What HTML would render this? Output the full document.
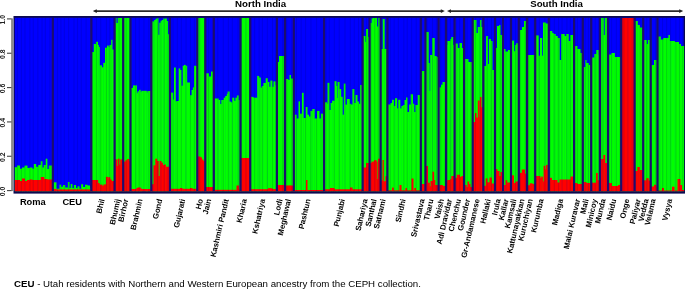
<!DOCTYPE html>
<html><head><meta charset="utf-8"><style>
html,body{margin:0;padding:0;background:#fff;width:685px;height:289px;overflow:hidden}
svg{position:absolute;left:0;top:0;display:block}
text{font-family:"Liberation Sans",Arial,sans-serif;fill:#000}
.hd{font-weight:bold;font-size:9.7px}
.hl{font-weight:bold;font-size:9.3px}
.rl{font-weight:bold;font-size:7.8px}
.yl{font-size:6.9px;font-weight:bold;fill:#222}
.ft{font-size:9.7px;fill:#000}
</style></head><body>
<svg width="685" height="289" viewBox="0 0 685 289">
<rect x="0" y="0" width="685" height="289" fill="#fff"/>
<text x="235.0" y="6.8" class="hd">North India</text>
<text x="530.2" y="6.8" class="hd">South India</text>
<line x1="94.80" y1="11.1" x2="442.80" y2="11.1" stroke="#2a2a2a" stroke-width="1.7"/>
<path d="M92.8 11.1 L96.8 9.2 L96.8 13.0 Z" fill="#222"/>
<path d="M444.8 11.1 L440.8 9.2 L440.8 13.0 Z" fill="#222"/>
<line x1="449.00" y1="11.1" x2="681.20" y2="11.1" stroke="#2a2a2a" stroke-width="1.7"/>
<path d="M447.0 11.1 L451.0 9.2 L451.0 13.0 Z" fill="#222"/>
<path d="M683.2 11.1 L679.2 9.2 L679.2 13.0 Z" fill="#222"/>
<rect x="13.5" y="16.0" width="671.50" height="177.60" fill="#0c0a50"/>
<defs><filter id="bl" x="-1%" y="-1%" width="102%" height="102%"><feGaussianBlur stdDeviation="0.35"/></filter></defs>
<g filter="url(#bl)">
<rect x="14.8" y="17.8" width="668.80" height="173.40" fill="#0000ff"/>
<rect x="14.80" y="167.20" width="2.70" height="24.00" fill="#00ff00"/>
<rect x="17.00" y="165.50" width="3.00" height="25.70" fill="#00ff00"/>
<rect x="19.50" y="168.70" width="3.00" height="22.50" fill="#00ff00"/>
<rect x="22.00" y="167.50" width="3.00" height="23.70" fill="#00ff00"/>
<rect x="24.50" y="165.60" width="3.00" height="25.60" fill="#00ff00"/>
<rect x="27.00" y="168.00" width="3.00" height="23.20" fill="#00ff00"/>
<rect x="29.50" y="167.50" width="3.00" height="23.70" fill="#00ff00"/>
<rect x="32.00" y="168.70" width="2.30" height="22.50" fill="#00ff00"/>
<rect x="33.80" y="164.00" width="2.40" height="27.20" fill="#00ff00"/>
<rect x="35.70" y="166.80" width="3.00" height="24.40" fill="#00ff00"/>
<rect x="38.20" y="165.00" width="3.00" height="26.20" fill="#00ff00"/>
<rect x="40.70" y="161.20" width="1.80" height="30.00" fill="#00ff00"/>
<rect x="42.00" y="167.50" width="2.30" height="23.70" fill="#00ff00"/>
<rect x="43.80" y="165.00" width="2.40" height="26.20" fill="#00ff00"/>
<rect x="45.70" y="158.70" width="1.70" height="32.50" fill="#00ff00"/>
<rect x="46.90" y="169.00" width="2.40" height="22.20" fill="#00ff00"/>
<rect x="48.80" y="165.50" width="4.50" height="25.70" fill="#00ff00"/>
<rect x="14.80" y="180.00" width="2.70" height="11.20" fill="#ff0000"/>
<rect x="17.00" y="180.00" width="3.00" height="11.20" fill="#ff0000"/>
<rect x="19.50" y="181.00" width="3.00" height="10.20" fill="#ff0000"/>
<rect x="22.00" y="178.50" width="3.00" height="12.70" fill="#ff0000"/>
<rect x="24.50" y="181.00" width="3.00" height="10.20" fill="#ff0000"/>
<rect x="27.00" y="180.00" width="3.00" height="11.20" fill="#ff0000"/>
<rect x="29.50" y="179.50" width="3.00" height="11.70" fill="#ff0000"/>
<rect x="32.00" y="180.00" width="2.30" height="11.20" fill="#ff0000"/>
<rect x="33.80" y="180.00" width="2.40" height="11.20" fill="#ff0000"/>
<rect x="35.70" y="180.00" width="3.00" height="11.20" fill="#ff0000"/>
<rect x="38.20" y="180.00" width="3.00" height="11.20" fill="#ff0000"/>
<rect x="40.70" y="177.00" width="1.80" height="14.20" fill="#ff0000"/>
<rect x="42.00" y="177.00" width="2.30" height="14.20" fill="#ff0000"/>
<rect x="43.80" y="179.00" width="2.40" height="12.20" fill="#ff0000"/>
<rect x="45.70" y="179.00" width="1.70" height="12.20" fill="#ff0000"/>
<rect x="46.90" y="179.50" width="2.40" height="11.70" fill="#ff0000"/>
<rect x="48.80" y="179.50" width="4.50" height="11.70" fill="#ff0000"/>
<rect x="52.80" y="182.30" width="3.70" height="8.90" fill="#00ff00"/>
<rect x="56.00" y="188.70" width="4.00" height="2.50" fill="#00ff00"/>
<rect x="59.50" y="184.70" width="1.70" height="6.50" fill="#00ff00"/>
<rect x="60.70" y="186.70" width="2.80" height="4.50" fill="#00ff00"/>
<rect x="63.00" y="185.00" width="2.20" height="6.20" fill="#00ff00"/>
<rect x="64.70" y="187.50" width="3.70" height="3.70" fill="#00ff00"/>
<rect x="67.90" y="182.00" width="1.60" height="9.20" fill="#00ff00"/>
<rect x="69.00" y="188.00" width="2.20" height="3.20" fill="#00ff00"/>
<rect x="70.70" y="184.00" width="1.70" height="7.20" fill="#00ff00"/>
<rect x="71.90" y="188.00" width="2.50" height="3.20" fill="#00ff00"/>
<rect x="73.90" y="185.00" width="2.10" height="6.20" fill="#00ff00"/>
<rect x="75.50" y="188.00" width="2.40" height="3.20" fill="#00ff00"/>
<rect x="77.40" y="186.30" width="2.10" height="4.90" fill="#00ff00"/>
<rect x="79.00" y="188.70" width="2.50" height="2.50" fill="#00ff00"/>
<rect x="81.00" y="184.30" width="2.10" height="6.90" fill="#00ff00"/>
<rect x="82.60" y="187.00" width="2.90" height="4.20" fill="#00ff00"/>
<rect x="85.00" y="184.70" width="2.50" height="6.50" fill="#00ff00"/>
<rect x="87.00" y="185.50" width="3.30" height="5.70" fill="#00ff00"/>
<rect x="89.80" y="188.30" width="2.00" height="2.90" fill="#00ff00"/>
<rect x="52.80" y="189.00" width="3.70" height="2.20" fill="#ff0000"/>
<rect x="56.00" y="189.50" width="4.00" height="1.70" fill="#ff0000"/>
<rect x="59.50" y="189.50" width="1.70" height="1.70" fill="#ff0000"/>
<rect x="60.70" y="189.50" width="2.80" height="1.70" fill="#ff0000"/>
<rect x="63.00" y="189.50" width="2.20" height="1.70" fill="#ff0000"/>
<rect x="64.70" y="189.50" width="3.70" height="1.70" fill="#ff0000"/>
<rect x="67.90" y="189.50" width="1.60" height="1.70" fill="#ff0000"/>
<rect x="69.00" y="189.50" width="2.20" height="1.70" fill="#ff0000"/>
<rect x="70.70" y="189.50" width="1.70" height="1.70" fill="#ff0000"/>
<rect x="71.90" y="189.50" width="2.50" height="1.70" fill="#ff0000"/>
<rect x="73.90" y="189.50" width="2.10" height="1.70" fill="#ff0000"/>
<rect x="75.50" y="189.50" width="2.40" height="1.70" fill="#ff0000"/>
<rect x="77.40" y="189.50" width="2.10" height="1.70" fill="#ff0000"/>
<rect x="79.00" y="189.50" width="2.50" height="1.70" fill="#ff0000"/>
<rect x="81.00" y="189.50" width="2.10" height="1.70" fill="#ff0000"/>
<rect x="82.60" y="189.50" width="2.90" height="1.70" fill="#ff0000"/>
<rect x="85.00" y="189.50" width="2.50" height="1.70" fill="#ff0000"/>
<rect x="87.00" y="189.50" width="3.30" height="1.70" fill="#ff0000"/>
<rect x="89.80" y="189.50" width="2.00" height="1.70" fill="#ff0000"/>
<rect x="91.30" y="52.00" width="3.00" height="139.20" fill="#00ff00"/>
<rect x="93.80" y="44.00" width="2.60" height="147.20" fill="#00ff00"/>
<rect x="95.90" y="41.80" width="2.10" height="149.40" fill="#00ff00"/>
<rect x="97.50" y="45.00" width="1.40" height="146.20" fill="#00ff00"/>
<rect x="98.40" y="47.00" width="1.40" height="144.20" fill="#00ff00"/>
<rect x="99.30" y="65.30" width="2.70" height="125.90" fill="#00ff00"/>
<rect x="101.50" y="67.30" width="2.30" height="123.90" fill="#00ff00"/>
<rect x="103.30" y="62.80" width="2.20" height="128.40" fill="#00ff00"/>
<rect x="105.00" y="47.70" width="2.50" height="143.50" fill="#00ff00"/>
<rect x="107.00" y="45.60" width="1.70" height="145.60" fill="#00ff00"/>
<rect x="108.20" y="47.00" width="1.70" height="144.20" fill="#00ff00"/>
<rect x="109.40" y="45.00" width="2.30" height="146.20" fill="#00ff00"/>
<rect x="111.20" y="39.80" width="1.30" height="151.40" fill="#00ff00"/>
<rect x="112.00" y="49.50" width="3.10" height="141.70" fill="#00ff00"/>
<rect x="91.30" y="180.00" width="6.90" height="11.20" fill="#ff0000"/>
<rect x="97.70" y="183.00" width="1.90" height="8.20" fill="#ff0000"/>
<rect x="99.10" y="184.60" width="3.40" height="6.60" fill="#ff0000"/>
<rect x="102.00" y="185.80" width="2.00" height="5.40" fill="#ff0000"/>
<rect x="103.50" y="184.40" width="2.90" height="6.80" fill="#ff0000"/>
<rect x="105.90" y="176.80" width="2.00" height="14.40" fill="#ff0000"/>
<rect x="107.40" y="178.60" width="1.40" height="12.60" fill="#ff0000"/>
<rect x="108.30" y="177.10" width="2.00" height="14.10" fill="#ff0000"/>
<rect x="109.80" y="179.50" width="2.00" height="11.70" fill="#ff0000"/>
<rect x="111.30" y="181.00" width="3.80" height="10.20" fill="#ff0000"/>
<rect x="114.60" y="18.00" width="1.90" height="173.20" fill="#00ff00"/>
<rect x="116.00" y="23.00" width="2.20" height="168.20" fill="#00ff00"/>
<rect x="117.70" y="18.00" width="0.80" height="173.20" fill="#00ff00"/>
<rect x="118.00" y="18.00" width="5.70" height="173.20" fill="#00ff00"/>
<rect x="114.60" y="159.40" width="2.90" height="31.80" fill="#ff0000"/>
<rect x="117.00" y="166.00" width="1.50" height="25.20" fill="#ff0000"/>
<rect x="118.00" y="158.70" width="1.50" height="32.50" fill="#ff0000"/>
<rect x="119.00" y="164.50" width="1.70" height="26.70" fill="#ff0000"/>
<rect x="120.20" y="159.40" width="3.50" height="31.80" fill="#ff0000"/>
<rect x="123.20" y="18.00" width="7.80" height="173.20" fill="#00ff00"/>
<rect x="123.20" y="161.60" width="2.60" height="29.60" fill="#ff0000"/>
<rect x="125.30" y="160.20" width="2.40" height="31.00" fill="#ff0000"/>
<rect x="127.20" y="159.00" width="1.90" height="32.20" fill="#ff0000"/>
<rect x="128.60" y="161.00" width="2.40" height="30.20" fill="#ff0000"/>
<rect x="130.50" y="87.90" width="3.00" height="103.30" fill="#00ff00"/>
<rect x="133.00" y="85.40" width="3.90" height="105.80" fill="#00ff00"/>
<rect x="136.40" y="93.20" width="1.60" height="98.00" fill="#00ff00"/>
<rect x="137.50" y="91.30" width="2.00" height="99.90" fill="#00ff00"/>
<rect x="139.00" y="89.80" width="1.70" height="101.40" fill="#00ff00"/>
<rect x="140.20" y="92.10" width="1.60" height="99.10" fill="#00ff00"/>
<rect x="141.30" y="90.80" width="5.50" height="100.40" fill="#00ff00"/>
<rect x="146.30" y="92.50" width="1.60" height="98.70" fill="#00ff00"/>
<rect x="147.40" y="91.00" width="4.40" height="100.20" fill="#00ff00"/>
<rect x="130.50" y="189.00" width="3.00" height="2.20" fill="#ff0000"/>
<rect x="133.00" y="189.00" width="3.90" height="2.20" fill="#ff0000"/>
<rect x="136.40" y="188.00" width="1.60" height="3.20" fill="#ff0000"/>
<rect x="137.50" y="187.50" width="2.00" height="3.70" fill="#ff0000"/>
<rect x="139.00" y="187.50" width="1.70" height="3.70" fill="#ff0000"/>
<rect x="140.20" y="188.50" width="1.60" height="2.70" fill="#ff0000"/>
<rect x="141.30" y="189.00" width="5.50" height="2.20" fill="#ff0000"/>
<rect x="146.30" y="189.00" width="1.60" height="2.20" fill="#ff0000"/>
<rect x="147.40" y="189.00" width="4.40" height="2.20" fill="#ff0000"/>
<rect x="151.30" y="21.40" width="3.40" height="169.80" fill="#00ff00"/>
<rect x="154.20" y="20.00" width="1.80" height="171.20" fill="#00ff00"/>
<rect x="155.50" y="18.80" width="1.80" height="172.40" fill="#00ff00"/>
<rect x="156.80" y="18.20" width="1.70" height="173.00" fill="#00ff00"/>
<rect x="158.00" y="34.80" width="1.80" height="156.40" fill="#00ff00"/>
<rect x="159.30" y="22.70" width="1.80" height="168.50" fill="#00ff00"/>
<rect x="160.60" y="20.70" width="1.80" height="170.50" fill="#00ff00"/>
<rect x="161.90" y="20.00" width="1.80" height="171.20" fill="#00ff00"/>
<rect x="163.20" y="18.50" width="3.70" height="172.70" fill="#00ff00"/>
<rect x="166.40" y="21.00" width="1.70" height="170.20" fill="#00ff00"/>
<rect x="167.60" y="34.20" width="2.90" height="157.00" fill="#00ff00"/>
<rect x="151.30" y="184.20" width="2.70" height="7.00" fill="#ff0000"/>
<rect x="153.50" y="165.30" width="2.30" height="25.90" fill="#ff0000"/>
<rect x="155.30" y="158.70" width="1.90" height="32.50" fill="#ff0000"/>
<rect x="156.70" y="161.00" width="2.00" height="30.20" fill="#ff0000"/>
<rect x="158.20" y="176.00" width="1.90" height="15.20" fill="#ff0000"/>
<rect x="159.60" y="161.00" width="1.90" height="30.20" fill="#ff0000"/>
<rect x="161.00" y="162.70" width="2.00" height="28.50" fill="#ff0000"/>
<rect x="162.50" y="165.00" width="2.00" height="26.20" fill="#ff0000"/>
<rect x="164.00" y="164.50" width="1.90" height="26.70" fill="#ff0000"/>
<rect x="165.40" y="166.70" width="5.10" height="24.50" fill="#ff0000"/>
<rect x="170.00" y="92.60" width="3.30" height="98.60" fill="#00ff00"/>
<rect x="172.80" y="99.50" width="1.70" height="91.70" fill="#00ff00"/>
<rect x="174.00" y="67.50" width="1.80" height="123.70" fill="#00ff00"/>
<rect x="175.30" y="101.30" width="1.90" height="89.90" fill="#00ff00"/>
<rect x="176.70" y="101.00" width="2.50" height="90.20" fill="#00ff00"/>
<rect x="178.70" y="68.40" width="1.60" height="122.80" fill="#00ff00"/>
<rect x="179.80" y="70.00" width="1.70" height="121.20" fill="#00ff00"/>
<rect x="181.00" y="85.70" width="2.20" height="105.50" fill="#00ff00"/>
<rect x="182.70" y="65.80" width="1.70" height="125.40" fill="#00ff00"/>
<rect x="183.90" y="64.90" width="1.90" height="126.30" fill="#00ff00"/>
<rect x="185.30" y="65.80" width="1.90" height="125.40" fill="#00ff00"/>
<rect x="186.70" y="82.50" width="3.30" height="108.70" fill="#00ff00"/>
<rect x="189.50" y="95.20" width="2.60" height="96.00" fill="#00ff00"/>
<rect x="191.60" y="90.00" width="1.80" height="101.20" fill="#00ff00"/>
<rect x="192.90" y="87.40" width="1.60" height="103.80" fill="#00ff00"/>
<rect x="194.00" y="65.80" width="3.80" height="125.40" fill="#00ff00"/>
<rect x="170.00" y="188.80" width="10.50" height="2.40" fill="#ff0000"/>
<rect x="180.00" y="188.00" width="2.50" height="3.20" fill="#ff0000"/>
<rect x="182.00" y="188.80" width="8.50" height="2.40" fill="#ff0000"/>
<rect x="190.00" y="188.00" width="2.50" height="3.20" fill="#ff0000"/>
<rect x="192.00" y="188.80" width="5.80" height="2.40" fill="#ff0000"/>
<rect x="197.30" y="18.00" width="8.50" height="173.20" fill="#00ff00"/>
<rect x="197.30" y="156.50" width="3.20" height="34.70" fill="#ff0000"/>
<rect x="200.00" y="157.30" width="2.00" height="33.90" fill="#ff0000"/>
<rect x="201.50" y="159.50" width="2.00" height="31.70" fill="#ff0000"/>
<rect x="203.00" y="161.00" width="2.80" height="30.20" fill="#ff0000"/>
<rect x="205.30" y="73.30" width="3.70" height="117.90" fill="#00ff00"/>
<rect x="208.50" y="76.50" width="3.00" height="114.70" fill="#00ff00"/>
<rect x="211.00" y="71.50" width="3.30" height="119.70" fill="#00ff00"/>
<rect x="205.30" y="187.00" width="3.70" height="4.20" fill="#ff0000"/>
<rect x="208.50" y="187.00" width="3.00" height="4.20" fill="#ff0000"/>
<rect x="211.00" y="187.00" width="3.30" height="4.20" fill="#ff0000"/>
<rect x="213.80" y="98.50" width="4.90" height="92.70" fill="#00ff00"/>
<rect x="218.20" y="100.00" width="2.10" height="91.20" fill="#00ff00"/>
<rect x="219.80" y="104.00" width="2.00" height="87.20" fill="#00ff00"/>
<rect x="221.30" y="100.00" width="2.90" height="91.20" fill="#00ff00"/>
<rect x="223.70" y="97.70" width="2.00" height="93.50" fill="#00ff00"/>
<rect x="225.20" y="96.00" width="2.10" height="95.20" fill="#00ff00"/>
<rect x="226.80" y="93.80" width="1.30" height="97.40" fill="#00ff00"/>
<rect x="227.60" y="91.50" width="2.00" height="99.70" fill="#00ff00"/>
<rect x="229.10" y="101.60" width="2.10" height="89.60" fill="#00ff00"/>
<rect x="230.70" y="102.40" width="2.00" height="88.80" fill="#00ff00"/>
<rect x="232.20" y="97.70" width="2.10" height="93.50" fill="#00ff00"/>
<rect x="233.80" y="100.80" width="2.10" height="90.40" fill="#00ff00"/>
<rect x="235.40" y="97.70" width="2.00" height="93.50" fill="#00ff00"/>
<rect x="236.90" y="95.40" width="1.80" height="95.80" fill="#00ff00"/>
<rect x="238.20" y="100.00" width="2.80" height="91.20" fill="#00ff00"/>
<rect x="213.80" y="189.80" width="23.20" height="1.40" fill="#ff0000"/>
<rect x="236.50" y="185.50" width="2.50" height="5.70" fill="#ff0000"/>
<rect x="238.50" y="189.50" width="2.50" height="1.70" fill="#ff0000"/>
<rect x="240.50" y="18.00" width="10.20" height="173.20" fill="#00ff00"/>
<rect x="240.50" y="158.00" width="10.20" height="33.20" fill="#ff0000"/>
<rect x="250.20" y="96.90" width="3.30" height="94.30" fill="#00ff00"/>
<rect x="253.00" y="97.70" width="4.70" height="93.50" fill="#00ff00"/>
<rect x="257.20" y="75.90" width="2.00" height="115.30" fill="#00ff00"/>
<rect x="258.70" y="77.50" width="2.10" height="113.70" fill="#00ff00"/>
<rect x="260.30" y="87.60" width="2.00" height="103.60" fill="#00ff00"/>
<rect x="261.80" y="86.00" width="2.10" height="105.20" fill="#00ff00"/>
<rect x="263.40" y="83.00" width="2.80" height="108.20" fill="#00ff00"/>
<rect x="265.70" y="78.20" width="2.10" height="113.00" fill="#00ff00"/>
<rect x="267.30" y="82.00" width="2.10" height="109.20" fill="#00ff00"/>
<rect x="268.90" y="86.80" width="2.00" height="104.40" fill="#00ff00"/>
<rect x="270.40" y="80.60" width="2.10" height="110.60" fill="#00ff00"/>
<rect x="272.00" y="86.80" width="2.00" height="104.40" fill="#00ff00"/>
<rect x="273.50" y="81.40" width="2.10" height="109.80" fill="#00ff00"/>
<rect x="275.10" y="85.20" width="2.30" height="106.00" fill="#00ff00"/>
<rect x="250.20" y="189.20" width="18.30" height="2.00" fill="#ff0000"/>
<rect x="268.00" y="188.20" width="4.50" height="3.00" fill="#ff0000"/>
<rect x="272.00" y="189.00" width="5.40" height="2.20" fill="#ff0000"/>
<rect x="276.90" y="62.00" width="2.60" height="129.20" fill="#00ff00"/>
<rect x="279.00" y="56.00" width="6.50" height="135.20" fill="#00ff00"/>
<rect x="276.90" y="185.00" width="2.60" height="6.20" fill="#ff0000"/>
<rect x="279.00" y="185.00" width="6.50" height="6.20" fill="#ff0000"/>
<rect x="285.00" y="79.00" width="3.30" height="112.20" fill="#00ff00"/>
<rect x="287.80" y="80.00" width="2.20" height="111.20" fill="#00ff00"/>
<rect x="289.50" y="75.00" width="1.50" height="116.20" fill="#00ff00"/>
<rect x="290.50" y="78.50" width="3.80" height="112.70" fill="#00ff00"/>
<rect x="285.00" y="185.50" width="3.30" height="5.70" fill="#ff0000"/>
<rect x="287.80" y="185.50" width="2.20" height="5.70" fill="#ff0000"/>
<rect x="289.50" y="185.50" width="1.50" height="5.70" fill="#ff0000"/>
<rect x="290.50" y="185.50" width="3.80" height="5.70" fill="#ff0000"/>
<rect x="293.80" y="114.70" width="2.90" height="76.50" fill="#00ff00"/>
<rect x="296.20" y="118.50" width="2.80" height="72.70" fill="#00ff00"/>
<rect x="298.50" y="101.40" width="1.50" height="89.80" fill="#00ff00"/>
<rect x="299.50" y="113.70" width="2.90" height="77.50" fill="#00ff00"/>
<rect x="301.90" y="92.80" width="1.80" height="98.40" fill="#00ff00"/>
<rect x="303.20" y="118.00" width="3.00" height="73.20" fill="#00ff00"/>
<rect x="305.70" y="107.00" width="1.80" height="84.20" fill="#00ff00"/>
<rect x="307.00" y="114.70" width="2.00" height="76.50" fill="#00ff00"/>
<rect x="308.50" y="116.50" width="2.40" height="74.70" fill="#00ff00"/>
<rect x="310.40" y="110.90" width="2.40" height="80.30" fill="#00ff00"/>
<rect x="312.30" y="109.00" width="2.40" height="82.20" fill="#00ff00"/>
<rect x="314.20" y="118.50" width="3.30" height="72.70" fill="#00ff00"/>
<rect x="317.00" y="110.90" width="2.50" height="80.30" fill="#00ff00"/>
<rect x="319.00" y="118.50" width="2.40" height="72.70" fill="#00ff00"/>
<rect x="320.90" y="113.70" width="3.60" height="77.50" fill="#00ff00"/>
<rect x="293.80" y="190.00" width="12.70" height="1.20" fill="#ff0000"/>
<rect x="306.00" y="180.00" width="1.50" height="11.20" fill="#ff0000"/>
<rect x="307.00" y="190.00" width="17.50" height="1.20" fill="#ff0000"/>
<rect x="324.00" y="102.30" width="3.20" height="88.90" fill="#00ff00"/>
<rect x="326.70" y="103.80" width="1.30" height="87.40" fill="#00ff00"/>
<rect x="327.50" y="82.80" width="2.00" height="108.40" fill="#00ff00"/>
<rect x="329.00" y="110.00" width="2.10" height="81.20" fill="#00ff00"/>
<rect x="330.60" y="103.00" width="2.00" height="88.20" fill="#00ff00"/>
<rect x="332.10" y="100.70" width="2.90" height="90.50" fill="#00ff00"/>
<rect x="334.50" y="81.20" width="2.00" height="110.00" fill="#00ff00"/>
<rect x="336.00" y="86.00" width="1.30" height="105.20" fill="#00ff00"/>
<rect x="336.80" y="98.00" width="1.30" height="93.20" fill="#00ff00"/>
<rect x="337.60" y="82.00" width="2.00" height="109.20" fill="#00ff00"/>
<rect x="339.10" y="89.00" width="2.10" height="102.20" fill="#00ff00"/>
<rect x="340.70" y="96.80" width="2.00" height="94.40" fill="#00ff00"/>
<rect x="342.20" y="114.70" width="2.10" height="76.50" fill="#00ff00"/>
<rect x="343.80" y="83.60" width="1.70" height="107.60" fill="#00ff00"/>
<rect x="345.00" y="104.60" width="2.40" height="86.60" fill="#00ff00"/>
<rect x="346.90" y="99.00" width="2.90" height="92.20" fill="#00ff00"/>
<rect x="349.30" y="103.80" width="2.00" height="87.40" fill="#00ff00"/>
<rect x="350.80" y="104.60" width="2.10" height="86.60" fill="#00ff00"/>
<rect x="352.40" y="89.00" width="2.00" height="102.20" fill="#00ff00"/>
<rect x="353.90" y="103.00" width="2.10" height="88.20" fill="#00ff00"/>
<rect x="355.50" y="95.00" width="2.00" height="96.20" fill="#00ff00"/>
<rect x="357.00" y="101.50" width="2.10" height="89.70" fill="#00ff00"/>
<rect x="358.60" y="103.80" width="2.10" height="87.40" fill="#00ff00"/>
<rect x="360.20" y="85.00" width="2.90" height="106.20" fill="#00ff00"/>
<rect x="324.00" y="189.30" width="6.50" height="1.90" fill="#ff0000"/>
<rect x="330.00" y="188.00" width="4.50" height="3.20" fill="#ff0000"/>
<rect x="334.00" y="189.30" width="16.50" height="1.90" fill="#ff0000"/>
<rect x="350.00" y="187.50" width="2.50" height="3.70" fill="#ff0000"/>
<rect x="352.00" y="189.30" width="11.10" height="1.90" fill="#ff0000"/>
<rect x="362.60" y="36.00" width="1.90" height="155.20" fill="#00ff00"/>
<rect x="364.00" y="36.00" width="1.50" height="155.20" fill="#00ff00"/>
<rect x="365.00" y="42.00" width="1.50" height="149.20" fill="#00ff00"/>
<rect x="366.00" y="29.00" width="2.10" height="162.20" fill="#00ff00"/>
<rect x="367.60" y="37.00" width="2.50" height="154.20" fill="#00ff00"/>
<rect x="362.60" y="167.50" width="3.90" height="23.70" fill="#ff0000"/>
<rect x="366.00" y="163.00" width="4.10" height="28.20" fill="#ff0000"/>
<rect x="369.60" y="23.00" width="2.50" height="168.20" fill="#00ff00"/>
<rect x="371.60" y="18.50" width="1.50" height="172.70" fill="#00ff00"/>
<rect x="372.60" y="18.00" width="4.50" height="173.20" fill="#00ff00"/>
<rect x="376.60" y="26.50" width="2.10" height="164.70" fill="#00ff00"/>
<rect x="378.20" y="18.00" width="2.90" height="173.20" fill="#00ff00"/>
<rect x="369.60" y="163.00" width="2.40" height="28.20" fill="#ff0000"/>
<rect x="371.50" y="161.60" width="3.00" height="29.60" fill="#ff0000"/>
<rect x="374.00" y="160.20" width="2.70" height="31.00" fill="#ff0000"/>
<rect x="376.20" y="161.60" width="1.30" height="29.60" fill="#ff0000"/>
<rect x="377.00" y="179.00" width="1.50" height="12.20" fill="#ff0000"/>
<rect x="378.00" y="158.70" width="3.10" height="32.50" fill="#ff0000"/>
<rect x="380.60" y="49.00" width="2.60" height="142.20" fill="#00ff00"/>
<rect x="382.70" y="19.00" width="2.00" height="172.20" fill="#00ff00"/>
<rect x="384.20" y="49.00" width="3.70" height="142.20" fill="#00ff00"/>
<rect x="380.60" y="180.50" width="2.40" height="10.70" fill="#ff0000"/>
<rect x="382.50" y="160.00" width="1.30" height="31.20" fill="#ff0000"/>
<rect x="383.30" y="181.20" width="2.70" height="10.00" fill="#ff0000"/>
<rect x="385.50" y="176.20" width="2.40" height="15.00" fill="#ff0000"/>
<rect x="387.40" y="104.50" width="3.60" height="86.70" fill="#00ff00"/>
<rect x="390.50" y="103.00" width="2.00" height="88.20" fill="#00ff00"/>
<rect x="392.00" y="99.80" width="2.10" height="91.40" fill="#00ff00"/>
<rect x="393.60" y="106.00" width="2.00" height="85.20" fill="#00ff00"/>
<rect x="395.10" y="98.20" width="2.10" height="93.00" fill="#00ff00"/>
<rect x="396.70" y="108.40" width="2.00" height="82.80" fill="#00ff00"/>
<rect x="398.20" y="99.80" width="2.10" height="91.40" fill="#00ff00"/>
<rect x="399.80" y="108.40" width="2.10" height="82.80" fill="#00ff00"/>
<rect x="401.40" y="106.00" width="2.00" height="85.20" fill="#00ff00"/>
<rect x="402.90" y="105.00" width="2.10" height="86.20" fill="#00ff00"/>
<rect x="404.50" y="100.00" width="2.00" height="91.20" fill="#00ff00"/>
<rect x="406.00" y="97.50" width="1.50" height="93.70" fill="#00ff00"/>
<rect x="407.00" y="112.00" width="2.60" height="79.20" fill="#00ff00"/>
<rect x="409.10" y="104.50" width="2.10" height="86.70" fill="#00ff00"/>
<rect x="410.70" y="94.30" width="1.30" height="96.90" fill="#00ff00"/>
<rect x="411.50" y="94.30" width="1.50" height="96.90" fill="#00ff00"/>
<rect x="412.50" y="103.70" width="1.80" height="87.50" fill="#00ff00"/>
<rect x="413.80" y="112.00" width="2.10" height="79.20" fill="#00ff00"/>
<rect x="415.40" y="105.00" width="2.80" height="86.20" fill="#00ff00"/>
<rect x="417.70" y="95.00" width="2.40" height="96.20" fill="#00ff00"/>
<rect x="419.60" y="105.00" width="1.70" height="86.20" fill="#00ff00"/>
<rect x="387.40" y="190.30" width="5.10" height="0.90" fill="#ff0000"/>
<rect x="392.00" y="187.60" width="1.80" height="3.60" fill="#ff0000"/>
<rect x="393.30" y="190.30" width="6.70" height="0.90" fill="#ff0000"/>
<rect x="399.50" y="185.00" width="2.00" height="6.20" fill="#ff0000"/>
<rect x="401.00" y="190.30" width="5.00" height="0.90" fill="#ff0000"/>
<rect x="405.50" y="188.00" width="1.50" height="3.20" fill="#ff0000"/>
<rect x="406.50" y="190.30" width="5.50" height="0.90" fill="#ff0000"/>
<rect x="411.50" y="178.50" width="2.00" height="12.70" fill="#ff0000"/>
<rect x="413.00" y="190.30" width="1.80" height="0.90" fill="#ff0000"/>
<rect x="414.30" y="188.00" width="1.70" height="3.20" fill="#ff0000"/>
<rect x="415.50" y="190.30" width="5.80" height="0.90" fill="#ff0000"/>
<rect x="420.80" y="71.00" width="5.10" height="120.20" fill="#00ff00"/>
<rect x="420.80" y="184.00" width="5.10" height="7.20" fill="#ff0000"/>
<rect x="425.40" y="32.00" width="3.30" height="159.20" fill="#00ff00"/>
<rect x="428.20" y="63.00" width="1.50" height="128.20" fill="#00ff00"/>
<rect x="429.20" y="91.00" width="1.50" height="100.20" fill="#00ff00"/>
<rect x="430.20" y="55.00" width="2.50" height="136.20" fill="#00ff00"/>
<rect x="432.20" y="38.00" width="2.50" height="153.20" fill="#00ff00"/>
<rect x="434.20" y="56.00" width="2.50" height="135.20" fill="#00ff00"/>
<rect x="436.20" y="57.00" width="2.90" height="134.20" fill="#00ff00"/>
<rect x="425.40" y="166.00" width="2.60" height="25.20" fill="#ff0000"/>
<rect x="427.50" y="182.70" width="2.30" height="8.50" fill="#ff0000"/>
<rect x="429.30" y="186.40" width="1.70" height="4.80" fill="#ff0000"/>
<rect x="430.50" y="181.00" width="2.40" height="10.20" fill="#ff0000"/>
<rect x="432.40" y="171.70" width="1.70" height="19.50" fill="#ff0000"/>
<rect x="433.60" y="180.00" width="1.70" height="11.20" fill="#ff0000"/>
<rect x="434.80" y="185.00" width="4.30" height="6.20" fill="#ff0000"/>
<rect x="438.60" y="87.30" width="2.90" height="103.90" fill="#00ff00"/>
<rect x="441.00" y="84.70" width="2.00" height="106.50" fill="#00ff00"/>
<rect x="442.50" y="82.00" width="4.10" height="109.20" fill="#00ff00"/>
<rect x="438.60" y="185.00" width="2.90" height="6.20" fill="#ff0000"/>
<rect x="441.00" y="185.00" width="2.00" height="6.20" fill="#ff0000"/>
<rect x="442.50" y="186.00" width="4.10" height="5.20" fill="#ff0000"/>
<rect x="446.10" y="45.00" width="1.70" height="146.20" fill="#00ff00"/>
<rect x="447.30" y="41.00" width="3.50" height="150.20" fill="#00ff00"/>
<rect x="450.30" y="39.00" width="1.50" height="152.20" fill="#00ff00"/>
<rect x="451.30" y="37.00" width="2.00" height="154.20" fill="#00ff00"/>
<rect x="452.80" y="45.00" width="2.30" height="146.20" fill="#00ff00"/>
<rect x="446.10" y="181.00" width="1.70" height="10.20" fill="#ff0000"/>
<rect x="447.30" y="180.00" width="3.50" height="11.20" fill="#ff0000"/>
<rect x="450.30" y="179.00" width="1.50" height="12.20" fill="#ff0000"/>
<rect x="451.30" y="176.00" width="2.00" height="15.20" fill="#ff0000"/>
<rect x="452.80" y="176.00" width="2.30" height="15.20" fill="#ff0000"/>
<rect x="454.60" y="43.50" width="3.20" height="147.70" fill="#00ff00"/>
<rect x="457.30" y="48.00" width="2.70" height="143.20" fill="#00ff00"/>
<rect x="459.50" y="43.00" width="2.50" height="148.20" fill="#00ff00"/>
<rect x="461.50" y="48.00" width="3.10" height="143.20" fill="#00ff00"/>
<rect x="454.60" y="177.80" width="2.70" height="13.40" fill="#ff0000"/>
<rect x="456.80" y="174.70" width="3.20" height="16.50" fill="#ff0000"/>
<rect x="459.50" y="176.80" width="2.40" height="14.40" fill="#ff0000"/>
<rect x="461.40" y="176.00" width="3.20" height="15.20" fill="#ff0000"/>
<rect x="464.10" y="59.00" width="4.40" height="132.20" fill="#00ff00"/>
<rect x="468.00" y="62.00" width="5.20" height="129.20" fill="#00ff00"/>
<rect x="464.10" y="185.00" width="2.60" height="6.20" fill="#ff0000"/>
<rect x="466.20" y="187.00" width="1.80" height="4.20" fill="#ff0000"/>
<rect x="467.50" y="181.50" width="1.70" height="9.70" fill="#ff0000"/>
<rect x="468.70" y="184.00" width="1.80" height="7.20" fill="#ff0000"/>
<rect x="470.00" y="187.00" width="3.20" height="4.20" fill="#ff0000"/>
<rect x="472.70" y="20.00" width="2.80" height="171.20" fill="#00ff00"/>
<rect x="475.00" y="20.00" width="1.50" height="171.20" fill="#00ff00"/>
<rect x="476.00" y="33.00" width="2.30" height="158.20" fill="#00ff00"/>
<rect x="477.80" y="27.00" width="1.90" height="164.20" fill="#00ff00"/>
<rect x="479.20" y="27.00" width="1.20" height="164.20" fill="#00ff00"/>
<rect x="479.90" y="20.00" width="1.60" height="171.20" fill="#00ff00"/>
<rect x="481.00" y="27.00" width="2.80" height="164.20" fill="#00ff00"/>
<rect x="472.70" y="122.00" width="2.80" height="69.20" fill="#ff0000"/>
<rect x="475.00" y="113.00" width="1.50" height="78.20" fill="#ff0000"/>
<rect x="476.00" y="117.50" width="2.30" height="73.70" fill="#ff0000"/>
<rect x="477.80" y="100.50" width="1.90" height="90.70" fill="#ff0000"/>
<rect x="479.20" y="117.00" width="1.20" height="74.20" fill="#ff0000"/>
<rect x="479.90" y="97.00" width="1.60" height="94.20" fill="#ff0000"/>
<rect x="481.00" y="107.30" width="2.80" height="83.90" fill="#ff0000"/>
<rect x="483.30" y="66.00" width="3.20" height="125.20" fill="#00ff00"/>
<rect x="486.00" y="36.00" width="2.10" height="155.20" fill="#00ff00"/>
<rect x="487.60" y="64.00" width="1.90" height="127.20" fill="#00ff00"/>
<rect x="489.00" y="39.00" width="1.90" height="152.20" fill="#00ff00"/>
<rect x="490.40" y="41.00" width="2.10" height="150.20" fill="#00ff00"/>
<rect x="492.00" y="70.00" width="3.50" height="121.20" fill="#00ff00"/>
<rect x="483.30" y="185.80" width="2.90" height="5.40" fill="#ff0000"/>
<rect x="485.70" y="178.40" width="1.80" height="12.80" fill="#ff0000"/>
<rect x="487.00" y="182.30" width="3.00" height="8.90" fill="#ff0000"/>
<rect x="489.50" y="177.50" width="2.30" height="13.70" fill="#ff0000"/>
<rect x="491.30" y="183.50" width="4.20" height="7.70" fill="#ff0000"/>
<rect x="495.00" y="48.00" width="2.50" height="143.20" fill="#00ff00"/>
<rect x="497.00" y="26.00" width="2.50" height="165.20" fill="#00ff00"/>
<rect x="499.00" y="25.00" width="1.50" height="166.20" fill="#00ff00"/>
<rect x="500.00" y="35.00" width="3.50" height="156.20" fill="#00ff00"/>
<rect x="495.00" y="169.20" width="2.50" height="22.00" fill="#ff0000"/>
<rect x="497.00" y="171.00" width="2.50" height="20.20" fill="#ff0000"/>
<rect x="499.00" y="176.00" width="2.00" height="15.20" fill="#ff0000"/>
<rect x="500.50" y="172.00" width="3.00" height="19.20" fill="#ff0000"/>
<rect x="503.00" y="49.00" width="2.50" height="142.20" fill="#00ff00"/>
<rect x="505.00" y="51.50" width="3.50" height="139.70" fill="#00ff00"/>
<rect x="508.00" y="50.00" width="3.50" height="141.20" fill="#00ff00"/>
<rect x="503.00" y="185.00" width="3.00" height="6.20" fill="#ff0000"/>
<rect x="505.50" y="180.20" width="1.80" height="11.00" fill="#ff0000"/>
<rect x="506.80" y="182.50" width="4.70" height="8.70" fill="#ff0000"/>
<rect x="511.00" y="40.60" width="3.10" height="150.60" fill="#00ff00"/>
<rect x="513.60" y="51.20" width="1.80" height="140.00" fill="#00ff00"/>
<rect x="514.90" y="45.00" width="1.80" height="146.20" fill="#00ff00"/>
<rect x="516.20" y="43.20" width="3.10" height="148.00" fill="#00ff00"/>
<rect x="511.00" y="175.30" width="3.00" height="15.90" fill="#ff0000"/>
<rect x="513.50" y="183.00" width="2.30" height="8.20" fill="#ff0000"/>
<rect x="515.30" y="181.50" width="4.00" height="9.70" fill="#ff0000"/>
<rect x="518.80" y="30.00" width="3.70" height="161.20" fill="#00ff00"/>
<rect x="522.00" y="27.00" width="2.50" height="164.20" fill="#00ff00"/>
<rect x="524.00" y="21.00" width="3.50" height="170.20" fill="#00ff00"/>
<rect x="518.80" y="172.90" width="3.50" height="18.30" fill="#ff0000"/>
<rect x="521.80" y="169.50" width="3.20" height="21.70" fill="#ff0000"/>
<rect x="524.50" y="173.50" width="3.00" height="17.70" fill="#ff0000"/>
<rect x="527.00" y="55.00" width="3.00" height="136.20" fill="#00ff00"/>
<rect x="529.50" y="55.00" width="6.20" height="136.20" fill="#00ff00"/>
<rect x="527.00" y="185.20" width="3.20" height="6.00" fill="#ff0000"/>
<rect x="529.70" y="183.30" width="3.00" height="7.90" fill="#ff0000"/>
<rect x="532.20" y="184.00" width="3.50" height="7.20" fill="#ff0000"/>
<rect x="535.20" y="35.40" width="3.50" height="155.80" fill="#00ff00"/>
<rect x="538.20" y="55.70" width="2.30" height="135.50" fill="#00ff00"/>
<rect x="540.00" y="38.00" width="2.20" height="153.20" fill="#00ff00"/>
<rect x="541.70" y="55.70" width="1.80" height="135.50" fill="#00ff00"/>
<rect x="543.00" y="22.50" width="2.80" height="168.70" fill="#00ff00"/>
<rect x="545.30" y="23.50" width="4.00" height="167.70" fill="#00ff00"/>
<rect x="535.20" y="176.00" width="5.30" height="15.20" fill="#ff0000"/>
<rect x="540.00" y="178.00" width="1.70" height="13.20" fill="#ff0000"/>
<rect x="541.20" y="176.60" width="1.70" height="14.60" fill="#ff0000"/>
<rect x="542.40" y="181.50" width="1.70" height="9.70" fill="#ff0000"/>
<rect x="543.60" y="165.80" width="1.70" height="25.40" fill="#ff0000"/>
<rect x="544.80" y="169.20" width="1.70" height="22.00" fill="#ff0000"/>
<rect x="546.00" y="164.90" width="1.70" height="26.30" fill="#ff0000"/>
<rect x="547.20" y="170.00" width="2.10" height="21.20" fill="#ff0000"/>
<rect x="548.80" y="31.00" width="3.50" height="160.20" fill="#00ff00"/>
<rect x="551.80" y="33.00" width="1.90" height="158.20" fill="#00ff00"/>
<rect x="553.20" y="34.00" width="2.50" height="157.20" fill="#00ff00"/>
<rect x="555.20" y="36.00" width="2.50" height="155.20" fill="#00ff00"/>
<rect x="557.20" y="38.00" width="2.50" height="153.20" fill="#00ff00"/>
<rect x="559.20" y="60.00" width="2.50" height="131.20" fill="#00ff00"/>
<rect x="561.20" y="34.00" width="3.50" height="157.20" fill="#00ff00"/>
<rect x="564.20" y="36.00" width="2.50" height="155.20" fill="#00ff00"/>
<rect x="566.20" y="34.00" width="2.50" height="157.20" fill="#00ff00"/>
<rect x="568.20" y="41.00" width="2.60" height="150.20" fill="#00ff00"/>
<rect x="570.30" y="35.00" width="4.30" height="156.20" fill="#00ff00"/>
<rect x="548.80" y="177.80" width="3.20" height="13.40" fill="#ff0000"/>
<rect x="551.50" y="180.00" width="6.00" height="11.20" fill="#ff0000"/>
<rect x="557.00" y="182.50" width="3.00" height="8.70" fill="#ff0000"/>
<rect x="559.50" y="179.50" width="11.50" height="11.70" fill="#ff0000"/>
<rect x="570.50" y="176.50" width="4.10" height="14.70" fill="#ff0000"/>
<rect x="574.10" y="46.00" width="3.40" height="145.20" fill="#00ff00"/>
<rect x="577.00" y="49.00" width="3.50" height="142.20" fill="#00ff00"/>
<rect x="580.00" y="53.00" width="3.30" height="138.20" fill="#00ff00"/>
<rect x="574.10" y="183.00" width="3.40" height="8.20" fill="#ff0000"/>
<rect x="577.00" y="184.00" width="3.50" height="7.20" fill="#ff0000"/>
<rect x="580.00" y="184.00" width="3.30" height="7.20" fill="#ff0000"/>
<rect x="582.80" y="67.00" width="3.00" height="124.20" fill="#00ff00"/>
<rect x="585.30" y="60.00" width="1.20" height="131.20" fill="#00ff00"/>
<rect x="586.00" y="63.00" width="2.80" height="128.20" fill="#00ff00"/>
<rect x="588.30" y="65.00" width="3.40" height="126.20" fill="#00ff00"/>
<rect x="582.80" y="182.00" width="3.00" height="9.20" fill="#ff0000"/>
<rect x="585.30" y="182.00" width="1.20" height="9.20" fill="#ff0000"/>
<rect x="586.00" y="183.00" width="2.80" height="8.20" fill="#ff0000"/>
<rect x="588.30" y="183.00" width="3.40" height="8.20" fill="#ff0000"/>
<rect x="591.20" y="57.50" width="3.60" height="133.70" fill="#00ff00"/>
<rect x="594.30" y="54.00" width="2.50" height="137.20" fill="#00ff00"/>
<rect x="596.30" y="50.00" width="2.50" height="141.20" fill="#00ff00"/>
<rect x="598.30" y="55.00" width="2.20" height="136.20" fill="#00ff00"/>
<rect x="591.20" y="182.70" width="5.30" height="8.50" fill="#ff0000"/>
<rect x="596.00" y="173.00" width="1.80" height="18.20" fill="#ff0000"/>
<rect x="597.30" y="180.20" width="3.20" height="11.00" fill="#ff0000"/>
<rect x="600.00" y="18.00" width="3.80" height="173.20" fill="#00ff00"/>
<rect x="603.30" y="35.00" width="1.90" height="156.20" fill="#00ff00"/>
<rect x="604.70" y="18.00" width="3.90" height="173.20" fill="#00ff00"/>
<rect x="600.00" y="159.00" width="3.80" height="32.20" fill="#ff0000"/>
<rect x="603.30" y="155.00" width="1.90" height="36.20" fill="#ff0000"/>
<rect x="604.70" y="163.00" width="3.90" height="28.20" fill="#ff0000"/>
<rect x="608.10" y="54.50" width="3.80" height="136.70" fill="#00ff00"/>
<rect x="611.40" y="53.00" width="3.50" height="138.20" fill="#00ff00"/>
<rect x="614.40" y="57.00" width="4.10" height="134.20" fill="#00ff00"/>
<rect x="618.00" y="57.00" width="3.70" height="134.20" fill="#00ff00"/>
<rect x="608.10" y="183.00" width="3.80" height="8.20" fill="#ff0000"/>
<rect x="611.40" y="186.00" width="3.50" height="5.20" fill="#ff0000"/>
<rect x="614.40" y="186.00" width="4.10" height="5.20" fill="#ff0000"/>
<rect x="618.00" y="185.00" width="3.70" height="6.20" fill="#ff0000"/>
<rect x="621.20" y="18.00" width="13.90" height="173.20" fill="#00ff00"/>
<rect x="621.20" y="18.00" width="13.90" height="173.20" fill="#ff0000"/>
<rect x="634.60" y="21.00" width="3.20" height="170.20" fill="#00ff00"/>
<rect x="637.30" y="25.00" width="2.50" height="166.20" fill="#00ff00"/>
<rect x="639.30" y="27.50" width="4.40" height="163.70" fill="#00ff00"/>
<rect x="634.60" y="171.00" width="3.20" height="20.20" fill="#ff0000"/>
<rect x="637.30" y="167.00" width="2.50" height="24.20" fill="#ff0000"/>
<rect x="639.30" y="170.00" width="4.40" height="21.20" fill="#ff0000"/>
<rect x="643.20" y="40.00" width="3.60" height="151.20" fill="#00ff00"/>
<rect x="646.30" y="44.00" width="2.10" height="147.20" fill="#00ff00"/>
<rect x="647.90" y="40.00" width="3.30" height="151.20" fill="#00ff00"/>
<rect x="643.20" y="180.30" width="3.60" height="10.90" fill="#ff0000"/>
<rect x="646.30" y="178.20" width="2.40" height="13.00" fill="#ff0000"/>
<rect x="648.20" y="180.50" width="3.00" height="10.70" fill="#ff0000"/>
<rect x="650.70" y="65.00" width="3.80" height="126.20" fill="#00ff00"/>
<rect x="654.00" y="60.00" width="4.00" height="131.20" fill="#00ff00"/>
<rect x="650.70" y="186.50" width="3.80" height="4.70" fill="#ff0000"/>
<rect x="654.00" y="184.80" width="2.30" height="6.40" fill="#ff0000"/>
<rect x="655.80" y="186.50" width="2.20" height="4.70" fill="#ff0000"/>
<rect x="657.50" y="36.50" width="3.30" height="154.70" fill="#00ff00"/>
<rect x="660.30" y="39.50" width="3.50" height="151.70" fill="#00ff00"/>
<rect x="663.30" y="38.00" width="5.60" height="153.20" fill="#00ff00"/>
<rect x="668.40" y="35.00" width="1.50" height="156.20" fill="#00ff00"/>
<rect x="669.40" y="41.00" width="2.50" height="150.20" fill="#00ff00"/>
<rect x="671.40" y="41.00" width="3.50" height="150.20" fill="#00ff00"/>
<rect x="674.40" y="42.00" width="4.60" height="149.20" fill="#00ff00"/>
<rect x="678.50" y="44.00" width="2.50" height="147.20" fill="#00ff00"/>
<rect x="680.50" y="46.00" width="3.60" height="145.20" fill="#00ff00"/>
<rect x="657.50" y="190.50" width="5.00" height="0.70" fill="#ff0000"/>
<rect x="662.00" y="188.00" width="2.00" height="3.20" fill="#ff0000"/>
<rect x="663.50" y="190.50" width="9.00" height="0.70" fill="#ff0000"/>
<rect x="672.00" y="186.70" width="2.50" height="4.50" fill="#ff0000"/>
<rect x="674.00" y="190.50" width="4.00" height="0.70" fill="#ff0000"/>
<rect x="677.50" y="179.00" width="3.00" height="12.20" fill="#ff0000"/>
<rect x="680.00" y="185.00" width="2.00" height="6.20" fill="#ff0000"/>
<rect x="681.50" y="190.00" width="2.60" height="1.20" fill="#ff0000"/>
<g fill="#101060" opacity="0.16"><rect x="16.80" y="17.80" width="1.1" height="173.40"/><rect x="20.84" y="17.80" width="1.1" height="173.40"/><rect x="24.43" y="17.80" width="1.1" height="173.40"/><rect x="29.33" y="17.80" width="1.1" height="173.40"/><rect x="32.71" y="17.80" width="1.1" height="173.40"/><rect x="37.31" y="17.80" width="1.1" height="173.40"/><rect x="41.46" y="17.80" width="1.1" height="173.40"/><rect x="44.81" y="17.80" width="1.1" height="173.40"/><rect x="49.33" y="17.80" width="1.1" height="173.40"/><rect x="52.63" y="17.80" width="1.1" height="173.40"/><rect x="56.95" y="17.80" width="1.1" height="173.40"/><rect x="60.34" y="17.80" width="1.1" height="173.40"/><rect x="63.77" y="17.80" width="1.1" height="173.40"/><rect x="68.08" y="17.80" width="1.1" height="173.40"/><rect x="73.43" y="17.80" width="1.1" height="173.40"/><rect x="76.95" y="17.80" width="1.1" height="173.40"/><rect x="80.73" y="17.80" width="1.1" height="173.40"/><rect x="85.56" y="17.80" width="1.1" height="173.40"/><rect x="91.22" y="17.80" width="1.1" height="173.40"/><rect x="95.92" y="17.80" width="1.1" height="173.40"/><rect x="100.15" y="17.80" width="1.1" height="173.40"/><rect x="105.89" y="17.80" width="1.1" height="173.40"/><rect x="109.21" y="17.80" width="1.1" height="173.40"/><rect x="114.65" y="17.80" width="1.1" height="173.40"/><rect x="118.60" y="17.80" width="1.1" height="173.40"/><rect x="122.17" y="17.80" width="1.1" height="173.40"/><rect x="125.68" y="17.80" width="1.1" height="173.40"/><rect x="129.68" y="17.80" width="1.1" height="173.40"/><rect x="135.00" y="17.80" width="1.1" height="173.40"/><rect x="138.67" y="17.80" width="1.1" height="173.40"/><rect x="143.39" y="17.80" width="1.1" height="173.40"/><rect x="148.25" y="17.80" width="1.1" height="173.40"/><rect x="152.42" y="17.80" width="1.1" height="173.40"/><rect x="157.04" y="17.80" width="1.1" height="173.40"/><rect x="160.40" y="17.80" width="1.1" height="173.40"/><rect x="163.76" y="17.80" width="1.1" height="173.40"/><rect x="167.49" y="17.80" width="1.1" height="173.40"/><rect x="172.46" y="17.80" width="1.1" height="173.40"/><rect x="176.77" y="17.80" width="1.1" height="173.40"/><rect x="180.79" y="17.80" width="1.1" height="173.40"/><rect x="185.51" y="17.80" width="1.1" height="173.40"/><rect x="189.89" y="17.80" width="1.1" height="173.40"/><rect x="193.87" y="17.80" width="1.1" height="173.40"/><rect x="199.14" y="17.80" width="1.1" height="173.40"/><rect x="204.15" y="17.80" width="1.1" height="173.40"/><rect x="207.99" y="17.80" width="1.1" height="173.40"/><rect x="212.68" y="17.80" width="1.1" height="173.40"/><rect x="217.25" y="17.80" width="1.1" height="173.40"/><rect x="222.72" y="17.80" width="1.1" height="173.40"/><rect x="227.82" y="17.80" width="1.1" height="173.40"/><rect x="231.77" y="17.80" width="1.1" height="173.40"/><rect x="237.52" y="17.80" width="1.1" height="173.40"/><rect x="241.02" y="17.80" width="1.1" height="173.40"/><rect x="245.31" y="17.80" width="1.1" height="173.40"/><rect x="250.48" y="17.80" width="1.1" height="173.40"/><rect x="254.07" y="17.80" width="1.1" height="173.40"/><rect x="258.55" y="17.80" width="1.1" height="173.40"/><rect x="261.85" y="17.80" width="1.1" height="173.40"/><rect x="266.79" y="17.80" width="1.1" height="173.40"/><rect x="271.97" y="17.80" width="1.1" height="173.40"/><rect x="276.66" y="17.80" width="1.1" height="173.40"/><rect x="282.14" y="17.80" width="1.1" height="173.40"/><rect x="286.15" y="17.80" width="1.1" height="173.40"/><rect x="291.16" y="17.80" width="1.1" height="173.40"/><rect x="295.91" y="17.80" width="1.1" height="173.40"/><rect x="300.62" y="17.80" width="1.1" height="173.40"/><rect x="305.00" y="17.80" width="1.1" height="173.40"/><rect x="310.39" y="17.80" width="1.1" height="173.40"/><rect x="316.04" y="17.80" width="1.1" height="173.40"/><rect x="320.47" y="17.80" width="1.1" height="173.40"/><rect x="325.40" y="17.80" width="1.1" height="173.40"/><rect x="328.76" y="17.80" width="1.1" height="173.40"/><rect x="333.78" y="17.80" width="1.1" height="173.40"/><rect x="338.67" y="17.80" width="1.1" height="173.40"/><rect x="344.45" y="17.80" width="1.1" height="173.40"/><rect x="349.78" y="17.80" width="1.1" height="173.40"/><rect x="353.72" y="17.80" width="1.1" height="173.40"/><rect x="357.93" y="17.80" width="1.1" height="173.40"/><rect x="362.87" y="17.80" width="1.1" height="173.40"/><rect x="366.12" y="17.80" width="1.1" height="173.40"/><rect x="370.53" y="17.80" width="1.1" height="173.40"/><rect x="374.16" y="17.80" width="1.1" height="173.40"/><rect x="377.67" y="17.80" width="1.1" height="173.40"/><rect x="381.02" y="17.80" width="1.1" height="173.40"/><rect x="386.22" y="17.80" width="1.1" height="173.40"/><rect x="389.75" y="17.80" width="1.1" height="173.40"/><rect x="393.60" y="17.80" width="1.1" height="173.40"/><rect x="397.81" y="17.80" width="1.1" height="173.40"/><rect x="403.28" y="17.80" width="1.1" height="173.40"/><rect x="406.69" y="17.80" width="1.1" height="173.40"/><rect x="411.06" y="17.80" width="1.1" height="173.40"/><rect x="415.69" y="17.80" width="1.1" height="173.40"/><rect x="421.18" y="17.80" width="1.1" height="173.40"/><rect x="426.51" y="17.80" width="1.1" height="173.40"/><rect x="431.96" y="17.80" width="1.1" height="173.40"/><rect x="435.88" y="17.80" width="1.1" height="173.40"/><rect x="440.16" y="17.80" width="1.1" height="173.40"/><rect x="444.30" y="17.80" width="1.1" height="173.40"/><rect x="449.79" y="17.80" width="1.1" height="173.40"/><rect x="455.48" y="17.80" width="1.1" height="173.40"/><rect x="459.08" y="17.80" width="1.1" height="173.40"/><rect x="462.73" y="17.80" width="1.1" height="173.40"/><rect x="466.54" y="17.80" width="1.1" height="173.40"/><rect x="470.34" y="17.80" width="1.1" height="173.40"/><rect x="474.81" y="17.80" width="1.1" height="173.40"/><rect x="479.54" y="17.80" width="1.1" height="173.40"/><rect x="483.42" y="17.80" width="1.1" height="173.40"/><rect x="486.63" y="17.80" width="1.1" height="173.40"/><rect x="490.92" y="17.80" width="1.1" height="173.40"/><rect x="495.08" y="17.80" width="1.1" height="173.40"/><rect x="499.75" y="17.80" width="1.1" height="173.40"/><rect x="505.43" y="17.80" width="1.1" height="173.40"/><rect x="510.43" y="17.80" width="1.1" height="173.40"/><rect x="514.97" y="17.80" width="1.1" height="173.40"/><rect x="519.77" y="17.80" width="1.1" height="173.40"/><rect x="524.73" y="17.80" width="1.1" height="173.40"/><rect x="528.07" y="17.80" width="1.1" height="173.40"/><rect x="533.61" y="17.80" width="1.1" height="173.40"/><rect x="538.84" y="17.80" width="1.1" height="173.40"/><rect x="544.31" y="17.80" width="1.1" height="173.40"/><rect x="549.59" y="17.80" width="1.1" height="173.40"/><rect x="553.81" y="17.80" width="1.1" height="173.40"/><rect x="558.04" y="17.80" width="1.1" height="173.40"/><rect x="561.51" y="17.80" width="1.1" height="173.40"/><rect x="566.36" y="17.80" width="1.1" height="173.40"/><rect x="569.72" y="17.80" width="1.1" height="173.40"/><rect x="573.10" y="17.80" width="1.1" height="173.40"/><rect x="576.84" y="17.80" width="1.1" height="173.40"/><rect x="580.46" y="17.80" width="1.1" height="173.40"/><rect x="584.55" y="17.80" width="1.1" height="173.40"/><rect x="587.88" y="17.80" width="1.1" height="173.40"/><rect x="591.08" y="17.80" width="1.1" height="173.40"/><rect x="594.68" y="17.80" width="1.1" height="173.40"/><rect x="598.14" y="17.80" width="1.1" height="173.40"/><rect x="602.29" y="17.80" width="1.1" height="173.40"/><rect x="605.55" y="17.80" width="1.1" height="173.40"/><rect x="611.03" y="17.80" width="1.1" height="173.40"/><rect x="615.82" y="17.80" width="1.1" height="173.40"/><rect x="619.41" y="17.80" width="1.1" height="173.40"/><rect x="623.27" y="17.80" width="1.1" height="173.40"/><rect x="627.37" y="17.80" width="1.1" height="173.40"/><rect x="631.52" y="17.80" width="1.1" height="173.40"/><rect x="635.03" y="17.80" width="1.1" height="173.40"/><rect x="640.44" y="17.80" width="1.1" height="173.40"/><rect x="646.22" y="17.80" width="1.1" height="173.40"/><rect x="650.64" y="17.80" width="1.1" height="173.40"/><rect x="655.09" y="17.80" width="1.1" height="173.40"/><rect x="658.52" y="17.80" width="1.1" height="173.40"/><rect x="661.98" y="17.80" width="1.1" height="173.40"/><rect x="666.07" y="17.80" width="1.1" height="173.40"/><rect x="669.96" y="17.80" width="1.1" height="173.40"/><rect x="675.32" y="17.80" width="1.1" height="173.40"/><rect x="678.94" y="17.80" width="1.1" height="173.40"/><rect x="682.20" y="17.80" width="1.1" height="173.40"/></g>
<rect x="51.70" y="17.80" width="2.2" height="173.40" fill="#1a0c6e"/>
<rect x="90.20" y="17.80" width="2.2" height="173.40" fill="#1a0c6e"/>
<rect x="113.50" y="17.80" width="2.2" height="173.40" fill="#1a0c6e"/>
<rect x="122.10" y="17.80" width="2.2" height="173.40" fill="#1a0c6e"/>
<rect x="129.40" y="17.80" width="2.2" height="173.40" fill="#1a0c6e"/>
<rect x="150.20" y="17.80" width="2.2" height="173.40" fill="#1a0c6e"/>
<rect x="168.90" y="17.80" width="2.2" height="173.40" fill="#1a0c6e"/>
<rect x="196.20" y="17.80" width="2.2" height="173.40" fill="#1a0c6e"/>
<rect x="204.20" y="17.80" width="2.2" height="173.40" fill="#1a0c6e"/>
<rect x="212.70" y="17.80" width="2.2" height="173.40" fill="#1a0c6e"/>
<rect x="239.40" y="17.80" width="2.2" height="173.40" fill="#1a0c6e"/>
<rect x="249.10" y="17.80" width="2.2" height="173.40" fill="#1a0c6e"/>
<rect x="275.80" y="17.80" width="2.2" height="173.40" fill="#1a0c6e"/>
<rect x="283.90" y="17.80" width="2.2" height="173.40" fill="#1a0c6e"/>
<rect x="292.70" y="17.80" width="2.2" height="173.40" fill="#1a0c6e"/>
<rect x="322.90" y="17.80" width="2.2" height="173.40" fill="#1a0c6e"/>
<rect x="361.50" y="17.80" width="2.2" height="173.40" fill="#1a0c6e"/>
<rect x="368.50" y="17.80" width="2.2" height="173.40" fill="#1a0c6e"/>
<rect x="379.50" y="17.80" width="2.2" height="173.40" fill="#1a0c6e"/>
<rect x="386.30" y="17.80" width="2.2" height="173.40" fill="#1a0c6e"/>
<rect x="419.70" y="17.80" width="2.2" height="173.40" fill="#1a0c6e"/>
<rect x="424.30" y="17.80" width="2.2" height="173.40" fill="#1a0c6e"/>
<rect x="437.50" y="17.80" width="2.2" height="173.40" fill="#1a0c6e"/>
<rect x="445.00" y="17.80" width="2.2" height="173.40" fill="#1a0c6e"/>
<rect x="453.50" y="17.80" width="2.2" height="173.40" fill="#1a0c6e"/>
<rect x="463.00" y="17.80" width="2.2" height="173.40" fill="#1a0c6e"/>
<rect x="471.60" y="17.80" width="2.2" height="173.40" fill="#1a0c6e"/>
<rect x="482.20" y="17.80" width="2.2" height="173.40" fill="#1a0c6e"/>
<rect x="493.90" y="17.80" width="2.2" height="173.40" fill="#1a0c6e"/>
<rect x="501.90" y="17.80" width="2.2" height="173.40" fill="#1a0c6e"/>
<rect x="509.90" y="17.80" width="2.2" height="173.40" fill="#1a0c6e"/>
<rect x="517.70" y="17.80" width="2.2" height="173.40" fill="#1a0c6e"/>
<rect x="525.90" y="17.80" width="2.2" height="173.40" fill="#1a0c6e"/>
<rect x="534.10" y="17.80" width="2.2" height="173.40" fill="#1a0c6e"/>
<rect x="547.70" y="17.80" width="2.2" height="173.40" fill="#1a0c6e"/>
<rect x="573.00" y="17.80" width="2.2" height="173.40" fill="#1a0c6e"/>
<rect x="581.70" y="17.80" width="2.2" height="173.40" fill="#1a0c6e"/>
<rect x="590.10" y="17.80" width="2.2" height="173.40" fill="#1a0c6e"/>
<rect x="598.90" y="17.80" width="2.2" height="173.40" fill="#1a0c6e"/>
<rect x="607.00" y="17.80" width="2.2" height="173.40" fill="#1a0c6e"/>
<rect x="620.10" y="17.80" width="2.2" height="173.40" fill="#1a0c6e"/>
<rect x="633.50" y="17.80" width="2.2" height="173.40" fill="#1a0c6e"/>
<rect x="642.10" y="17.80" width="2.2" height="173.40" fill="#1a0c6e"/>
<rect x="649.60" y="17.80" width="2.2" height="173.40" fill="#1a0c6e"/>
<rect x="656.40" y="17.80" width="2.2" height="173.40" fill="#1a0c6e"/>
</g>
<line x1="12.1" y1="18.4" x2="12.1" y2="191.1" stroke="#8a8a8a" stroke-width="2"/>
<line x1="7" y1="190.60" x2="11.5" y2="190.60" stroke="#444" stroke-width="1.1"/>
<text x="4.7" y="191.50" text-anchor="middle" class="yl" transform="rotate(-90 4.7 191.50)">0.0</text>
<line x1="7" y1="156.26" x2="11.5" y2="156.26" stroke="#444" stroke-width="1.1"/>
<text x="4.7" y="157.16" text-anchor="middle" class="yl" transform="rotate(-90 4.7 157.16)">0.2</text>
<line x1="7" y1="121.92" x2="11.5" y2="121.92" stroke="#444" stroke-width="1.1"/>
<text x="4.7" y="122.82" text-anchor="middle" class="yl" transform="rotate(-90 4.7 122.82)">0.4</text>
<line x1="7" y1="87.58" x2="11.5" y2="87.58" stroke="#444" stroke-width="1.1"/>
<text x="4.7" y="88.48" text-anchor="middle" class="yl" transform="rotate(-90 4.7 88.48)">0.6</text>
<line x1="7" y1="53.24" x2="11.5" y2="53.24" stroke="#444" stroke-width="1.1"/>
<text x="4.7" y="54.14" text-anchor="middle" class="yl" transform="rotate(-90 4.7 54.14)">0.8</text>
<line x1="7" y1="18.90" x2="11.5" y2="18.90" stroke="#444" stroke-width="1.1"/>
<text x="4.7" y="19.80" text-anchor="middle" class="yl" transform="rotate(-90 4.7 19.80)">1.0</text>
<text x="32.80" y="205" text-anchor="middle" class="hl">Roma</text>
<text x="72.20" y="205" text-anchor="middle" class="hl">CEU</text>
<text x="104.65" y="199.60" text-anchor="end" class="rl" transform="rotate(-77 104.65 199.60)">Bhil</text>
<text x="120.60" y="199.60" text-anchor="end" class="rl" transform="rotate(-77 120.60 199.60)">Bhumij</text>
<text x="128.55" y="199.60" text-anchor="end" class="rl" transform="rotate(-77 128.55 199.60)">Birhor</text>
<text x="142.60" y="199.60" text-anchor="end" class="rl" transform="rotate(-77 142.60 199.60)">Brahmin</text>
<text x="162.35" y="199.60" text-anchor="end" class="rl" transform="rotate(-77 162.35 199.60)">Gond</text>
<text x="185.35" y="199.60" text-anchor="end" class="rl" transform="rotate(-77 185.35 199.60)">Gujarati</text>
<text x="203.00" y="199.60" text-anchor="end" class="rl" transform="rotate(-77 203.00 199.60)">Ho</text>
<text x="211.25" y="199.60" text-anchor="end" class="rl" transform="rotate(-77 211.25 199.60)">Jain</text>
<text x="228.85" y="199.60" text-anchor="end" class="rl" transform="rotate(-77 228.85 199.60)">Kashmiri Pandit</text>
<text x="247.05" y="199.60" text-anchor="end" class="rl" transform="rotate(-77 247.05 199.60)">Kharia</text>
<text x="265.25" y="199.60" text-anchor="end" class="rl" transform="rotate(-77 265.25 199.60)">Kshatriya</text>
<text x="282.65" y="199.60" text-anchor="end" class="rl" transform="rotate(-77 282.65 199.60)">Lodi</text>
<text x="291.10" y="199.60" text-anchor="end" class="rl" transform="rotate(-77 291.10 199.60)">Meghawal</text>
<text x="310.60" y="199.60" text-anchor="end" class="rl" transform="rotate(-77 310.60 199.60)">Pashtun</text>
<text x="345.00" y="199.60" text-anchor="end" class="rl" transform="rotate(-77 345.00 199.60)">Punjabi</text>
<text x="367.80" y="199.60" text-anchor="end" class="rl" transform="rotate(-77 367.80 199.60)">Sahariya</text>
<text x="376.80" y="199.60" text-anchor="end" class="rl" transform="rotate(-77 376.80 199.60)">Santhal</text>
<text x="385.70" y="199.60" text-anchor="end" class="rl" transform="rotate(-77 385.70 199.60)">Satnami</text>
<text x="405.80" y="199.60" text-anchor="end" class="rl" transform="rotate(-77 405.80 199.60)">Sindhi</text>
<text x="424.80" y="199.60" text-anchor="end" class="rl" transform="rotate(-77 424.80 199.60)">Srivastava</text>
<text x="433.70" y="199.60" text-anchor="end" class="rl" transform="rotate(-77 433.70 199.60)">Tharu</text>
<text x="444.05" y="199.60" text-anchor="end" class="rl" transform="rotate(-77 444.05 199.60)">Vaish</text>
<text x="452.05" y="199.60" text-anchor="end" class="rl" transform="rotate(-77 452.05 199.60)">Adi Dravidar</text>
<text x="461.05" y="199.60" text-anchor="end" class="rl" transform="rotate(-77 461.05 199.60)">Chenchu</text>
<text x="470.10" y="199.60" text-anchor="end" class="rl" transform="rotate(-77 470.10 199.60)">Gounder</text>
<text x="479.70" y="199.60" text-anchor="end" class="rl" transform="rotate(-77 479.70 199.60)">Gr-Andamanese</text>
<text x="490.85" y="199.60" text-anchor="end" class="rl" transform="rotate(-77 490.85 199.60)">Hallaki</text>
<text x="500.70" y="199.60" text-anchor="end" class="rl" transform="rotate(-77 500.70 199.60)">Irula</text>
<text x="508.70" y="199.60" text-anchor="end" class="rl" transform="rotate(-77 508.70 199.60)">Kallar</text>
<text x="516.60" y="199.60" text-anchor="end" class="rl" transform="rotate(-77 516.60 199.60)">Kamsali</text>
<text x="524.60" y="199.60" text-anchor="end" class="rl" transform="rotate(-77 524.60 199.60)">Kattunayakkan</text>
<text x="532.80" y="199.60" text-anchor="end" class="rl" transform="rotate(-77 532.80 199.60)">Kuruchiyan</text>
<text x="543.70" y="199.60" text-anchor="end" class="rl" transform="rotate(-77 543.70 199.60)">Kurumba</text>
<text x="563.15" y="199.60" text-anchor="end" class="rl" transform="rotate(-77 563.15 199.60)">Madiga</text>
<text x="580.15" y="199.60" text-anchor="end" class="rl" transform="rotate(-77 580.15 199.60)">Malai Kuravar</text>
<text x="588.70" y="199.60" text-anchor="end" class="rl" transform="rotate(-77 588.70 199.60)">Mali</text>
<text x="597.30" y="199.60" text-anchor="end" class="rl" transform="rotate(-77 597.30 199.60)">Minicoy</text>
<text x="605.75" y="199.60" text-anchor="end" class="rl" transform="rotate(-77 605.75 199.60)">Munda</text>
<text x="616.35" y="199.60" text-anchor="end" class="rl" transform="rotate(-77 616.35 199.60)">Naidu</text>
<text x="629.60" y="199.60" text-anchor="end" class="rl" transform="rotate(-77 629.60 199.60)">Onge</text>
<text x="640.60" y="199.60" text-anchor="end" class="rl" transform="rotate(-77 640.60 199.60)">Paliyar</text>
<text x="648.65" y="199.60" text-anchor="end" class="rl" transform="rotate(-77 648.65 199.60)">Vedda</text>
<text x="655.80" y="199.60" text-anchor="end" class="rl" transform="rotate(-77 655.80 199.60)">Velama</text>
<text x="672.25" y="199.60" text-anchor="end" class="rl" transform="rotate(-77 672.25 199.60)">Vysya</text>
<text x="14" y="286.6" class="ft"><tspan font-weight="bold">CEU</tspan> - Utah residents with Northern and Western European ancestry from the CEPH collection.</text>
</svg>
</body></html>
